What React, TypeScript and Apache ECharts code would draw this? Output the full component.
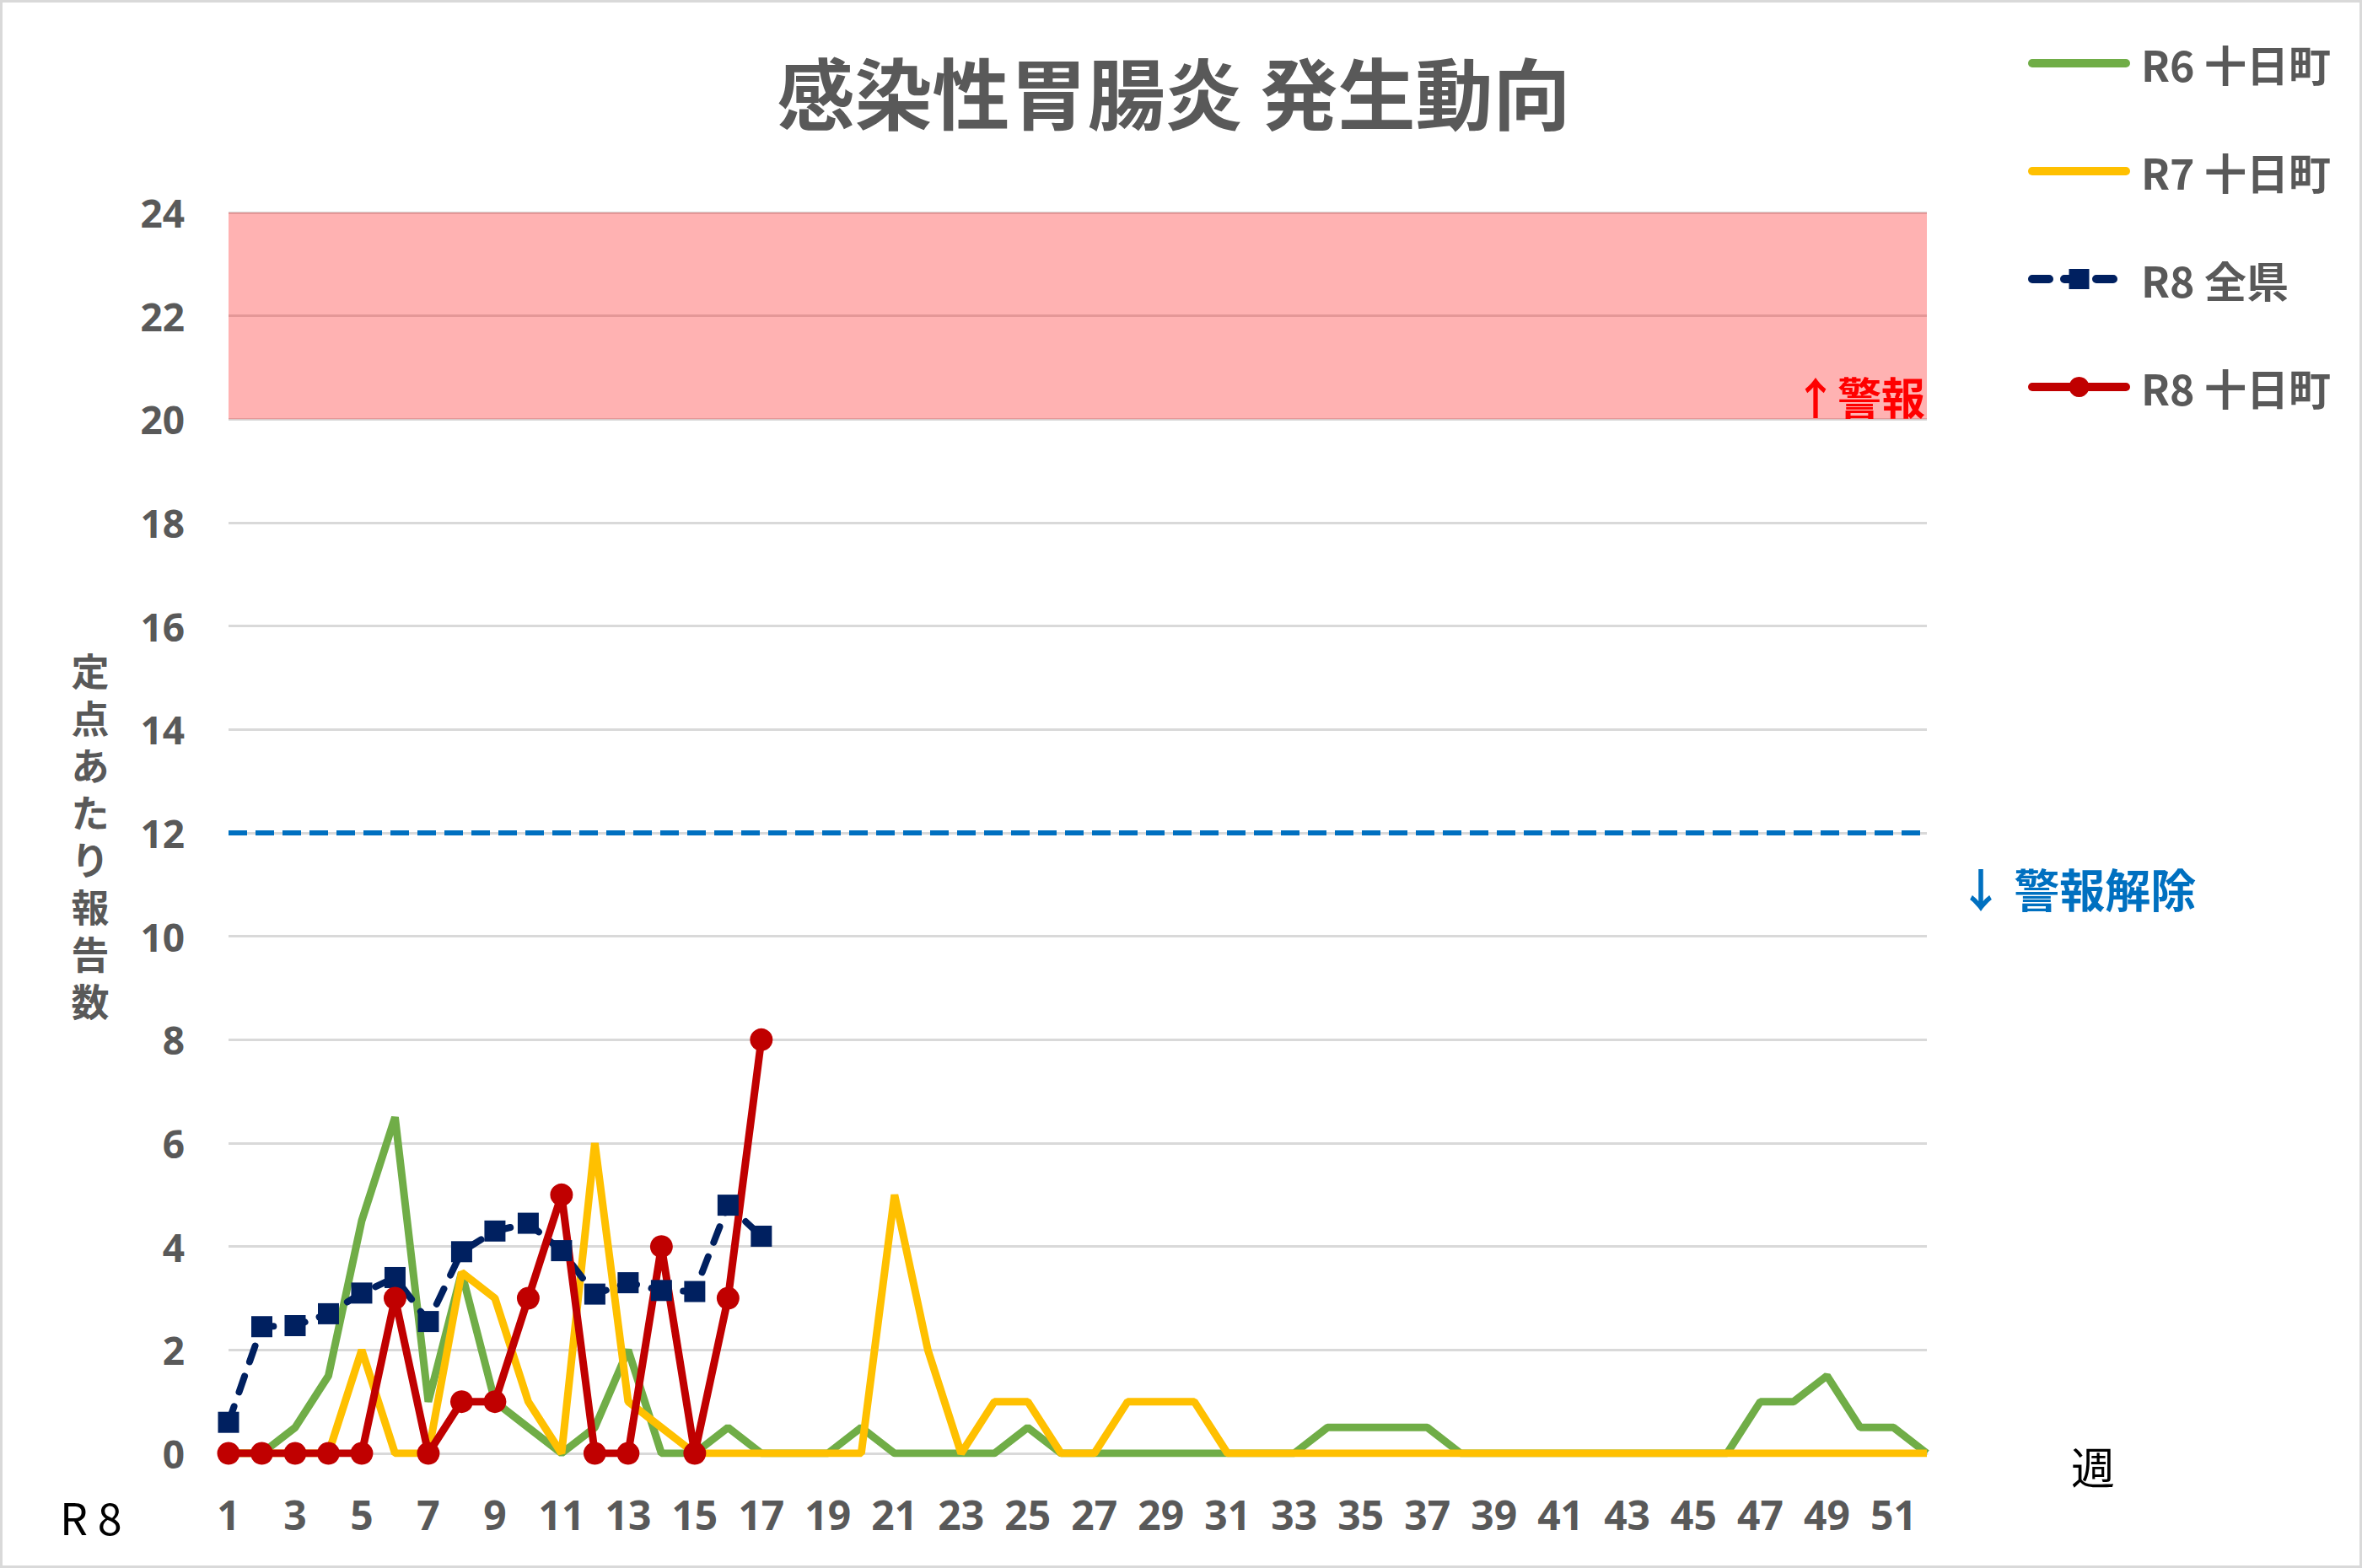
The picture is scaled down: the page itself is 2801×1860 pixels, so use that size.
import * as echarts from "echarts";
import { useEffect, useRef } from "react";

// week numbers on the x axis
const weeks = [
  "1", "2", "3", "4", "5", "6", "7", "8", "9", "10", "11", "12", "13",
  "14", "15", "16", "17", "18", "19", "20", "21", "22", "23", "24", "25", "26",
  "27", "28", "29", "30", "31", "32", "33", "34", "35", "36", "37", "38", "39",
  "40", "41", "42", "43", "44", "45", "46", "47", "48", "49", "50", "51", "52",
];

const seriesNames = ["R6 十日町", "R7 十日町", "R8 全県", "R8 十日町"];

// R6 十日町
const r6Town = [
  0, 0, 0.5, 1.5, 4.5, 6.5, 1, 3.5, 1, 0.5, 0, 0.5, 2,
  0, 0, 0.5, 0, 0, 0, 0.5, 0, 0, 0, 0, 0.5, 0,
  0, 0, 0, 0, 0, 0, 0, 0.5, 0.5, 0.5, 0.5, 0, 0,
  0, 0, 0, 0, 0, 0, 0, 1, 1, 1.5, 0.5, 0.5, 0,
];

// R7 十日町
const r7Town = [
  0, 0, 0, 0, 2, 0, 0, 3.5, 3, 1, 0, 6, 1,
  0.5, 0, 0, 0, 0, 0, 0, 5, 2, 0, 1, 1, 0,
  0, 1, 1, 1, 0, 0, 0, 0, 0, 0, 0, 0, 0,
  0, 0, 0, 0, 0, 0, 0, 0, 0, 0, 0, 0, 0,
];

// R8 全県 (weeks reported so far)
const r8Pref = [
  0.6, 2.45, 2.47, 2.7, 3.1, 3.4, 2.55, 3.9, 4.3, 4.45, 3.92, 3.08, 3.3,
  3.15, 3.13, 4.8, 4.2,
];

// R8 十日町 (weeks reported so far)
const r8Town = [0, 0, 0, 0, 0, 3, 0, 1, 1, 3, 5, 0, 0, 4, 0, 3, 8];

const yTicks = { min: 0, max: 24, interval: 2 };
const alarmLevel = [20, 24];
const alarmEnd = 12;

const numFont = "'Liberation Sans Narrow', 'Noto Sans', sans-serif";
const jpFont = "'Noto Sans CJK JP', sans-serif";
const gray = "#595959";

const App = () => {
  const chartRef = useRef<HTMLDivElement>(null);

  useEffect(() => {
    document.body.style.margin = "0";
    document.body.style.overflow = "hidden";
    if (!chartRef.current) {
      return;
    }
    const chart = echarts.init(chartRef.current, null, { renderer: "svg" });

    const option = {
      animation: false,
      backgroundColor: "#ffffff",
      grid: { left: 271, right: 516, top: 252, bottom: 136 },
      legend: {
        orient: "vertical",
        left: 2400,
        top: 45,
        itemWidth: 111,
        itemHeight: 30,
        itemGap: 78,
        data: [
          // plain lines: hide the legend marker
          { name: seriesNames[0], itemStyle: { opacity: 0 } },
          { name: seriesNames[1], itemStyle: { opacity: 0 } },
          { name: seriesNames[2] },
          { name: seriesNames[3] },
        ],
        lineStyle: { width: 10, cap: "round" },
        textStyle: {
          fontFamily: jpFont,
          fontSize: 50,
          fontWeight: "bold",
          color: gray,
          padding: [0, 0, 0, 13],
        },
      },
      xAxis: {
        type: "category",
        data: weeks,
        boundaryGap: false,
        axisLine: { lineStyle: { color: "#d9d9d9", width: 3 } },
        axisTick: { show: false },
        axisLabel: {
          interval: 1,
          margin: 48,
          fontFamily: numFont,
          fontSize: 48,
          fontWeight: "bold",
          color: gray,
        },
      },
      yAxis: {
        type: "value",
        min: yTicks.min,
        max: yTicks.max,
        interval: yTicks.interval,
        axisLine: { show: false },
        axisTick: { show: false },
        splitLine: { lineStyle: { color: "#d9d9d9", width: 3 } },
        axisLabel: {
          margin: 52,
          fontFamily: numFont,
          fontSize: 46,
          fontWeight: "bold",
          color: gray,
        },
      },
      series: [
        {
          name: seriesNames[0],
          type: "line",
          data: r6Town,
          symbol: "none",
          lineStyle: { color: "#70ad47", width: 9 },
          itemStyle: { color: "#70ad47" },
          markArea: {
            silent: true,
            itemStyle: { color: "rgba(255,0,0,0.3)" },
            label: {
              show: true,
              position: "insideBottomRight",
              distance: 2,
              formatter: "↑警報",
              color: "#ff0000",
              fontFamily: jpFont,
              fontSize: 52,
              fontWeight: "bold",
            },
            data: [[{ yAxis: alarmLevel[0] }, { yAxis: alarmLevel[1] }]],
          },
          markLine: {
            silent: true,
            symbol: "none",
            label: { show: false },
            lineStyle: { color: "#0070c0", width: 6, type: [22, 10] },
            data: [{ yAxis: alarmEnd }],
          },
        },
        {
          name: seriesNames[1],
          type: "line",
          data: r7Town,
          symbol: "none",
          lineStyle: { color: "#ffc000", width: 9 },
          itemStyle: { color: "#ffc000" },
        },
        {
          name: seriesNames[2],
          type: "line",
          data: r8Pref,
          symbol: "rect",
          symbolSize: 25,
          showAllSymbol: true,
          lineStyle: { color: "#002060", width: 8, type: [20, 18], cap: "round" },
          itemStyle: { color: "#002060" },
        },
        {
          name: seriesNames[3],
          type: "line",
          data: r8Town,
          symbol: "circle",
          symbolSize: 27,
          showAllSymbol: true,
          lineStyle: { color: "#c00000", width: 9 },
          itemStyle: { color: "#c00000" },
        },
      ],
      graphic: [
        {
          type: "rect",
          silent: true,
          shape: { x: 1.5, y: 1.5, width: 2798, height: 1857 },
          style: { fill: "none", stroke: "#d9d9d9", lineWidth: 3 },
        },
        {
          type: "text",
          x: 1392,
          y: 106,
          style: {
            text: "感染性胃腸炎 発生動向",
            fontFamily: jpFont,
            fontSize: 92,
            fontWeight: "bold",
            fill: gray,
            align: "center",
            verticalAlign: "middle",
          },
        },
        {
          type: "text",
          x: 107,
          y: 990,
          style: {
            text: "定点あたり報告数".split("").join("\n"),
            fontFamily: jpFont,
            fontSize: 45,
            lineHeight: 56,
            fontWeight: "bold",
            fill: gray,
            align: "center",
            verticalAlign: "middle",
          },
        },
        {
          type: "text",
          x: 2322,
          y: 1053,
          style: {
            text: "↓ 警報解除",
            fontFamily: jpFont,
            fontSize: 54,
            fontWeight: "bold",
            fill: "#0070c0",
            align: "left",
            verticalAlign: "middle",
          },
        },
        {
          type: "text",
          x: 71,
          y: 1798,
          style: {
            text: "R 8",
            fontFamily: jpFont,
            fontSize: 52,
            fill: "#000000",
            align: "left",
            verticalAlign: "middle",
          },
        },
        {
          type: "text",
          x: 2482,
          y: 1738,
          style: {
            text: "週",
            fontFamily: jpFont,
            fontSize: 52,
            fill: "#000000",
            align: "center",
            verticalAlign: "middle",
          },
        },
      ],
    };

    chart.setOption(option);
    return () => {
      chart.dispose();
    };
  }, []);

  return <div ref={chartRef} style={{ width: "2801px", height: "1860px" }}></div>;
};

export default App;
